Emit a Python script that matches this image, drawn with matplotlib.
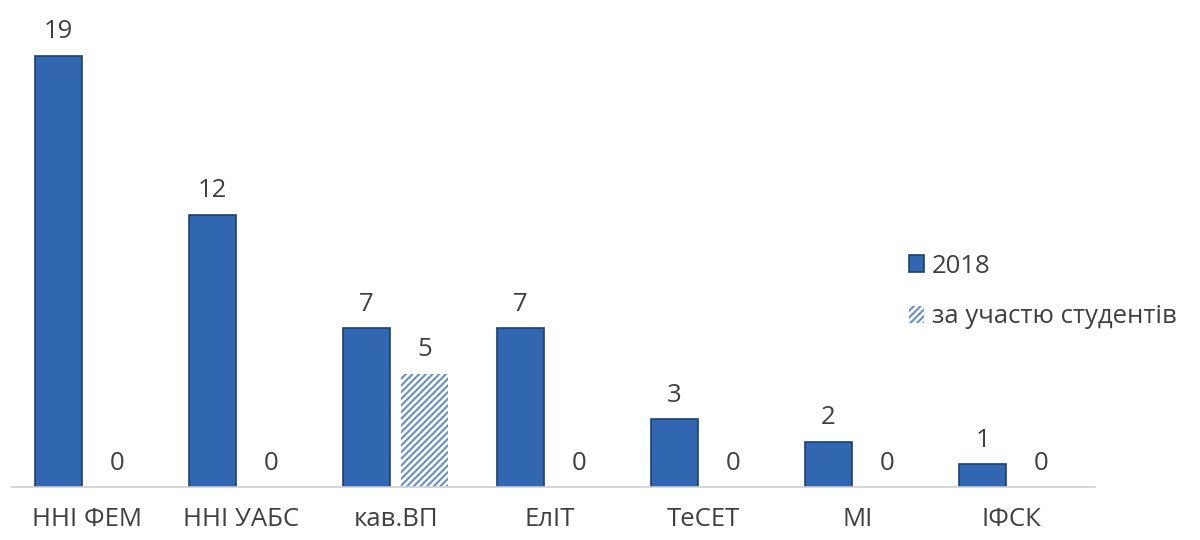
import matplotlib
matplotlib.use("Agg")
import matplotlib.pyplot as plt
import numpy as np

plt.rcParams['font.family'] = ['Open Sans', 'DejaVu Sans']
plt.rcParams['hatch.linewidth'] = 1.5

# data
categories = ['ННІ ФЕМ', 'ННІ УАБС', 'кав.ВП', 'ЕлІТ', 'ТеСЕТ', 'МІ', 'ІФСК']
values_2018 = [19, 12, 7, 7, 3, 2, 1]
values_students = [0, 0, 5, 0, 0, 0, 0]
series_names = ['2018', 'за участю студентів']

fig = plt.figure(figsize=(12, 5.4), dpi=100)
ax = fig.add_axes([0.01, 0.098, 0.9025, 0.902])

x = np.arange(len(categories))
w = 0.305
off = 0.19

b1 = ax.bar(x - off, values_2018, w, color='#3166B0', edgecolor='#1C3F73',
            linewidth=1.2, label=series_names[0])
b2 = ax.bar(x + off, values_students, w, color='white', edgecolor='#6690C8',
            hatch='/////', linewidth=0, label=series_names[1])

for rect, v in zip(b1, values_2018):
    ax.text(rect.get_x() + rect.get_width() / 2, v + 0.5, str(v),
            ha='center', va='bottom', fontsize=18.5, color='#404040')
for rect, v in zip(b2, values_students):
    ax.text(rect.get_x() + rect.get_width() / 2, v + 0.5, str(v),
            ha='center', va='bottom', fontsize=18.5, color='#404040')

ax.set_xlim(-0.49, 6.54)
ax.set_ylim(0, 21.45)
ax.set_xticks(x)
ax.set_xticklabels(categories, fontsize=18.5, color='#404040')
ax.tick_params(axis='x', length=0, pad=14)
ax.set_yticks([])
for s in ['top', 'right', 'left']:
    ax.spines[s].set_visible(False)
ax.spines['bottom'].set_color('#D0D0D0')
ax.spines['bottom'].set_linewidth(1.2)

leg = fig.legend(loc='upper left', bbox_to_anchor=(0.738, 0.573), frameon=False,
                 fontsize=18.5, labelcolor='#404040', handlelength=0.6,
                 handleheight=0.6, handletextpad=0.3, labelspacing=1.0)

fig.savefig('out.png', dpi=100)
